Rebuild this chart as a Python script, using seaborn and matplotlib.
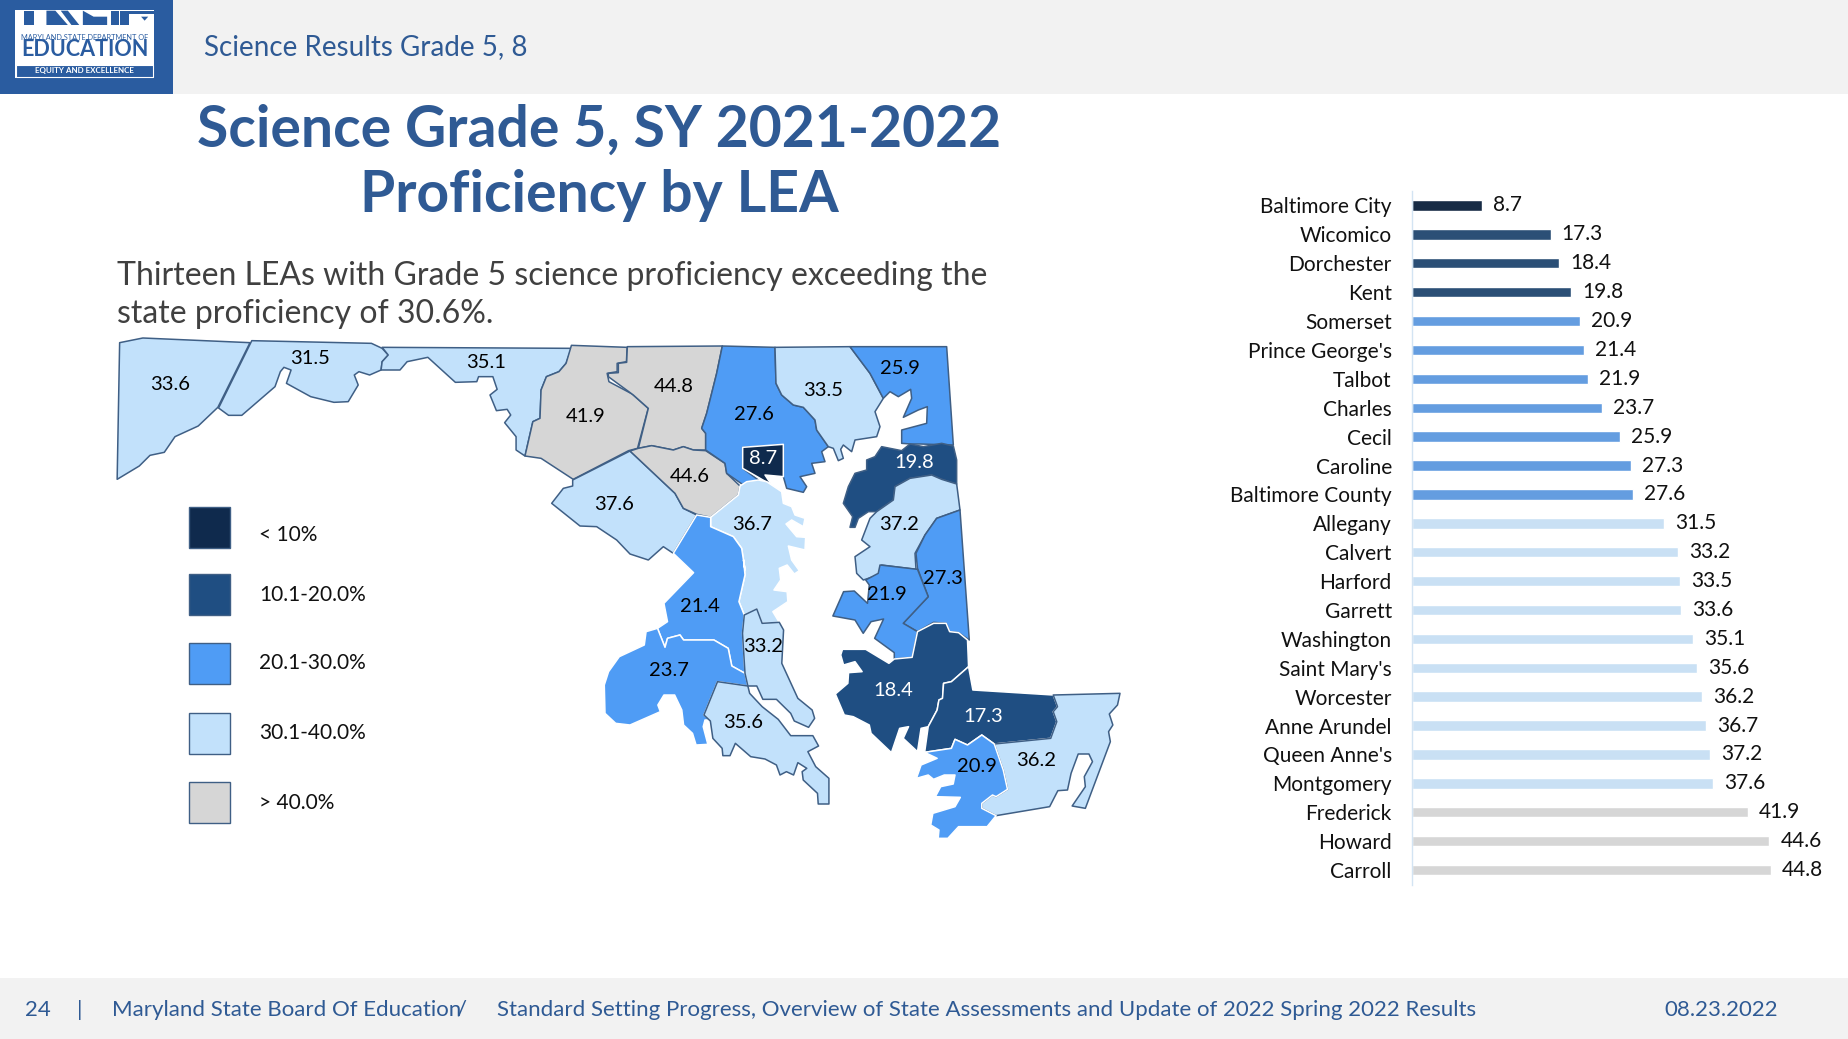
import matplotlib
matplotlib.use('Agg')
import matplotlib.pyplot as plt
from matplotlib.patches import Polygon, Rectangle
import pandas as pd
import seaborn as sns

leas = ['Baltimore City', 'Wicomico', 'Dorchester', 'Kent', 'Somerset', "Prince George's", 'Talbot',
        'Charles', 'Cecil', 'Caroline', 'Baltimore County', 'Allegany', 'Calvert', 'Harford', 'Garrett',
        'Washington', "Saint Mary's", 'Worcester', 'Anne Arundel', "Queen Anne's", 'Montgomery',
        'Frederick', 'Howard', 'Carroll']
scores = [8.7, 17.3, 18.4, 19.8, 20.9, 21.4, 21.9, 23.7, 25.9, 27.3, 27.6, 31.5, 33.2, 33.5, 33.6,
          35.1, 35.6, 36.2, 36.7, 37.2, 37.6, 41.9, 44.6, 44.8]
band_labels = ['< 10%', '10.1-20.0%', '20.1-30.0%', '30.1-40.0%', '> 40.0%']
band_edges = [0, 10, 20, 30, 40, 100]
band_colors = ['#0f2a4d', '#1f4e82', '#4f9cf5', '#c2e1fb', '#d6d6d6']

BLUE = '#2f5a94'
OUTLINE = '#3f5f85'


def z1(pts):
    return [(100 + x / 2.8, 320 + y / 3) for x, y in pts]


def z2(pts):
    return [(520 + x / 3, 330 + y / 3) for x, y in pts]


def z3(pts):
    return [(580 + x / 2.8, 560 + y / 3) for x, y in pts]


def z4(pts):
    return [(x / 2.8, y / 3) for x, y in pts]


outlines = {
    'Garrett': z1([(55, 68), (120, 54), (420, 68), (330, 262), (275, 318), (210, 350), (180, 397), (140, 406),
                   (110, 438), (48, 478)]),
    'Allegany': z1([(425, 62), (760, 70), (790, 85), (807, 105), (790, 125), (787, 150), (755, 165), (725, 155),
                    (712, 165), (723, 195), (695, 245), (655, 247), (590, 230), (522, 190), (535, 150), (515, 142),
                    (505, 155), (490, 200), (397, 286), (360, 286), (332, 264)]),
    'Washington': z1([(790, 82), (1320, 85), (1305, 130), (1285, 155), (1250, 170), (1235, 210), (1232, 295),
                      (1212, 305), (1190, 408), (1165, 390), (1165, 350), (1133, 308), (1150, 285), (1140, 268),
                      (1110, 272), (1092, 225), (1112, 208), (1100, 170), (1060, 170), (1055, 185), (995, 187),
                      (918, 112), (860, 125), (840, 150), (787, 150), (790, 125), (807, 105)]),
    'Frederick': z1([(1320, 76), (1476, 82), (1474, 125), (1448, 130), (1448, 155), (1420, 160), (1425, 185),
                     (1490, 222), (1535, 265), (1505, 385), (1480, 392), (1325, 478), (1235, 415), (1190, 408),
                     (1212, 305), (1232, 295), (1235, 210), (1250, 170), (1285, 155), (1305, 130)]),
    'Carroll': z2([(322, 50), (607, 48), (590, 130), (560, 250), (545, 295), (557, 310), (557, 360), (520, 360),
                   (490, 350), (460, 360), (395, 347), (355, 355), (385, 235), (340, 195), (265, 140), (265, 130),
                   (295, 128), (295, 100), (320, 97)]),
    'Montgomery': z2([(330, 363), (465, 490), (490, 535), (530, 555), (460, 670), (430, 650), (385, 690), (330, 672),
                      (290, 630), (230, 590), (180, 588), (95, 520), (130, 475), (158, 468), (158, 450)]),
    'Howard': z2([(355, 355), (395, 347), (460, 360), (490, 350), (520, 360), (557, 362), (615, 400), (620, 430),
                  (660, 468), (655, 495), (572, 562), (530, 553), (490, 535), (465, 490), (330, 363)]),
    'Baltimore County': z2([(607, 48), (765, 52), (768, 160), (785, 195), (820, 225), (850, 232), (885, 270),
                            (890, 300), (925, 350), (905, 365), (915, 395), (875, 400), (885, 430), (840, 440),
                            (860, 470), (850, 487), (800, 475), (790, 440), (790, 345), (668, 352), (668, 415),
                            (715, 450), (670, 465), (620, 430), (615, 400), (557, 360), (557, 310), (545, 295),
                            (560, 250), (590, 130)]),
    'Baltimore City': z2([(668, 352), (790, 343), (790, 440), (735, 435), (755, 465), (668, 415)]),
    'Harford': z2([(765, 52), (990, 50), (1050, 130), (1090, 205), (1065, 245), (1080, 290), (1070, 320), (1005, 330),
                   (995, 365), (970, 345), (962, 358), (970, 385), (955, 392), (940, 355), (925, 350), (890, 300),
                   (885, 270), (850, 232), (820, 225), (785, 195), (768, 160)]),
    'Cecil': z2([(990, 50), (1280, 50), (1300, 345), (1200, 342), (1172, 342), (1145, 340), (1145, 300), (1220, 280),
                 (1222, 230), (1195, 240), (1150, 262), (1175, 205), (1172, 178), (1135, 200), (1110, 185), (1090, 205),
                 (1050, 130)]),
    'Kent': z2([(1085, 350), (1145, 362), (1170, 342), (1210, 350), (1265, 340), (1300, 348), (1310, 390), (1310, 462),
                (1265, 448), (1235, 435), (1170, 445), (1125, 470), (1120, 510), (1070, 545), (1045, 545), (1015, 565),
                (1005, 592), (990, 592), (998, 560), (970, 520), (985, 470), (1005, 430), (1040, 420), (1040, 390),
                (1065, 380)]),
    "Queen Anne's": z2([(1125, 470), (1170, 445), (1235, 435), (1265, 448), (1310, 462), (1320, 540), (1250, 565),
                        (1215, 615), (1185, 670), (1188, 718), (1085, 705), (1075, 735), (1030, 750), (1010, 730),
                        (1005, 680), (1050, 650), (1025, 630), (1050, 565), (1070, 545), (1120, 510)]),
    'Caroline': z2([(1320, 540)]) + z3([(1090, 240), (1060, 218), (1035, 215), (1025, 190), (990, 187), (945, 215),
                                        (905, 190), (975, 110), (945, 25)]) + z2([(1188, 670), (1215, 615), (1250, 565)]),
    'Talbot': z3([(840, 15), (945, 28), (975, 110), (905, 190), (945, 215), (930, 292), (880, 297), (880, 278),
                  (825, 235), (850, 177), (815, 185), (793, 220), (770, 180), (708, 168), (738, 95), (768, 93),
                  (805, 130), (810, 75), (800, 60), (835, 40)]),
    'Dorchester': z3([(945, 215), (990, 190), (1025, 190), (1035, 215), (1060, 218), (1085, 240), (1088, 320),
                      (1040, 365), (1018, 370), (1015, 415), (1005, 420), (1000, 450), (975, 500), (955, 505),
                      (945, 575), (905, 535), (920, 500), (895, 505), (872, 578), (815, 520), (810, 495), (765, 470),
                      (740, 465), (715, 402), (750, 370), (752, 338), (790, 335), (770, 305), (738, 315), (730, 285),
                      (735, 268), (800, 268), (865, 310), (880, 297), (930, 292)]),
    'Wicomico': z3([(1088, 320), (1100, 390), (1325, 405), (1337, 440), (1325, 455), (1335, 485), (1318, 535),
                    (1160, 552), (1125, 525), (1085, 555), (1050, 538), (1040, 565), (965, 577), (975, 500),
                    (1000, 450), (1005, 420), (1015, 415), (1018, 370), (1040, 365)]),
    'Worcester': z3([(1325, 405), (1512, 400), (1505, 435), (1482, 462), (1492, 495), (1480, 515), (1485, 545),
                     (1415, 745), (1378, 738), (1415, 680), (1412, 650), (1435, 605), (1425, 582), (1395, 582),
                     (1375, 640), (1365, 690), (1338, 692), (1315, 740), (1165, 767), (1125, 745), (1125, 730),
                     (1155, 705), (1165, 710), (1197, 688), (1185, 630), (1160, 552), (1318, 535), (1335, 485),
                     (1325, 455), (1337, 440)]),
    'Somerset': z3([(1125, 525), (1160, 552), (1185, 630), (1197, 688), (1165, 710), (1155, 705), (1125, 730),
                    (1125, 745), (1165, 767), (1140, 800), (1085, 800), (1060, 800), (1030, 835), (1003, 835),
                    (1005, 810), (982, 795), (988, 760), (1050, 740), (1065, 712), (995, 710), (1010, 680), (1045, 672),
                    (1050, 645), (1020, 645), (990, 658), (975, 645), (942, 655), (955, 615), (1000, 595), (965, 577),
                    (1040, 565), (1050, 538), (1085, 555)]),
    'Anne Arundel': z2([(572, 562), (655, 495), (660, 468), (680, 455), (715, 450), (740, 455), (785, 485), (790, 520),
                        (815, 530), (825, 555), (855, 565), (850, 590), (815, 570), (798, 582), (830, 620), (857, 622),
                        (855, 660), (805, 648), (815, 690), (838, 722)])
    + z3([(600, 42), (580, 15), (558, 25), (562, 60), (543, 90), (580, 95), (582, 125), (540, 155), (558, 187),
          (510, 190), (495, 147), (460, 165), (445, 125), (462, 45), (458, 0)])
    + z2([(675, 720), (665, 655), (640, 620), (572, 590)]),
    "Prince George's": z2([(530, 555), (572, 562), (572, 590), (640, 620), (665, 655), (675, 720)])
    + z3([(458, 0), (462, 45), (445, 125), (460, 165), (455, 220), (462, 340), (425, 318), (415, 265), (375, 240),
          (290, 240), (280, 225), (245, 235), (238, 262), (217, 205), (245, 185), (235, 130), (318, 38)])
    + z2([(460, 670)]),
    'Charles': z3([(217, 205), (238, 262), (245, 235), (280, 225), (290, 240), (375, 240), (415, 265), (425, 318),
                   (462, 340), (470, 378), (385, 365), (347, 465), (365, 480), (350, 480), (345, 500), (358, 553),
                   (325, 555), (315, 520), (290, 495), (285, 450), (265, 405), (235, 405), (218, 435), (225, 455),
                   (140, 495), (100, 490), (70, 460), (68, 375), (80, 335), (110, 290), (180, 255), (185, 215)]),
    "Saint Mary's": z3([(385, 365), (470, 378), (475, 400), (510, 440), (555, 478), (590, 527), (652, 527), (668, 558),
                        (638, 575), (660, 620), (697, 655), (697, 732), (667, 732), (665, 700), (625, 660), (622, 635),
                        (635, 625), (610, 608), (598, 645), (578, 635), (560, 645), (550, 615), (518, 597), (478, 590),
                        (435, 550), (420, 587), (400, 587), (398, 565), (372, 535), (365, 483), (347, 465)]),
    'Calvert': z3([(460, 165), (495, 147), (510, 190), (558, 187), (570, 210), (565, 310), (610, 415), (650, 450),
                   (657, 475), (640, 502), (600, 483), (590, 460), (550, 418), (512, 418), (495, 378), (470, 378),
                   (462, 340), (455, 220)]),
}
white_edged = ['Baltimore City', 'Anne Arundel', 'Charles', "Prince George's", 'Dorchester', 'Wicomico', 'Somerset']
# label anchors on the map, in slide pixels
map_labels = {
    'Garrett': (170, 384), 'Allegany': (310, 359), 'Washington': (486, 362), 'Frederick': (586, 417),
    'Carroll': (674, 386), 'Baltimore County': (754, 415), 'Harford': (823, 390), 'Cecil': (900, 368),
    'Baltimore City': (763, 458), 'Kent': (914, 462), 'Howard': (690, 476), 'Montgomery': (614, 504),
    'Anne Arundel': (752, 524), "Queen Anne's": (899, 524), 'Caroline': (943, 579), 'Talbot': (887, 594),
    "Prince George's": (700, 606), 'Calvert': (763, 647), 'Charles': (669, 671), "Saint Mary's": (743, 723),
    'Dorchester': (893, 691), 'Wicomico': (983, 716), 'Worcester': (1036, 761), 'Somerset': (977, 767),
}
legend_tops = [507, 574, 643, 713, 782]
legend_text_y = [535, 595, 663, 733, 803]

df = pd.DataFrame({'lea': leas, 'score': scores})
df['band'] = pd.cut(df['score'], bins=band_edges, labels=band_labels).astype(str)
band_of = dict(zip(df['lea'], df['band']))
color_of = dict(zip(band_labels, band_colors))

sns.set_theme(style='white')
plt.rcParams['font.family'] = ['Lato', 'DejaVu Sans']

fig = plt.figure(figsize=(18.48, 10.39), dpi=100, facecolor='white')
page = fig.add_axes([0, 0, 1, 1])
page.set_xlim(0, 1848)
page.set_ylim(1039, 0)
page.axis('off')

# header, logo, footer
page.add_patch(Rectangle((0, 0), 1848, 94, color='#f2f2f2', lw=0))
page.add_patch(Rectangle((0, 978), 1848, 61, color='#f2f2f2', lw=0))
page.add_patch(Rectangle((0, 0), 173, 94, color='#2a5ca0', lw=0))
page.add_patch(Rectangle((15, 10), 139, 67.5, color='white', lw=0))
page.add_patch(Rectangle((16, 65), 137, 12, facecolor='#2a5ca0', edgecolor='white', lw=0.8))
for shape in [[(68, 32), (95, 32), (95, 75), (68, 75)], [(130, 32), (155, 32), (190, 75), (130, 75)],
              [(170, 32), (190, 32), (222, 75), (200, 75)], [(232, 32), (262, 50), (300, 50), (300, 75), (232, 75)],
              [(310, 32), (332, 32), (332, 75), (310, 75)], [(335, 32), (430, 32), (430, 42), (360, 42), (360, 75), (335, 75)],
              [(395, 50), (415, 50), (405, 62)]]:
    page.add_patch(Polygon(z4(shape), color='#2a5ca0', lw=0))
page.text(84.5, 37, 'MARYLAND STATE DEPARTMENT OF', fontsize=5.3, color='#2a5ca0', ha='center', va='center')
page.text(84.5, 50, 'EDUCATION', fontsize=15.5, fontweight='bold', color='#2a5ca0', ha='center', va='center')
page.text(84.5, 71, 'EQUITY AND EXCELLENCE', fontsize=5.8, fontweight='bold', color='white', ha='center', va='center')
page.text(204, 47.5, 'Science Results Grade 5, 8', fontsize=20, color=BLUE, va='center')

for x, s in [(25, '24'), (77, '|'), (112, 'Maryland State Board Of Education'), (456, '/'),
             (497, 'Standard Setting Progress, Overview of State Assessments and Update of 2022 Spring 2022 Results'),
             (1664, '08.23.2022')]:
    page.text(x, 1010, s, fontsize=16, color=BLUE, va='center')

page.text(599, 130, 'Science Grade 5, SY 2021-2022', fontsize=41, fontweight='bold', color=BLUE, ha='center', va='center')
page.text(599, 195, 'Proficiency by LEA', fontsize=41, fontweight='bold', color=BLUE, ha='center', va='center')
page.text(117, 276, 'Thirteen LEAs with Grade 5 science proficiency exceeding the', fontsize=23, color='#404040', va='center')
page.text(117, 314, 'state proficiency of 30.6%.', fontsize=23, color='#404040', va='center')

# map
for lea, pts in outlines.items():
    edge = 'white' if lea in white_edged else OUTLINE
    page.add_patch(Polygon(pts, closed=True, facecolor=color_of[band_of[lea]], edgecolor=edge, lw=1.1, joinstyle='round'))
for lea, (x, y) in map_labels.items():
    txt_color = 'white' if band_of[lea] in band_labels[:2] else 'black'
    page.text(x, y, f'{scores[leas.index(lea)]:.1f}', fontsize=14.5, color=txt_color, ha='center', va='center')

for lab, col, top, ty in zip(band_labels, band_colors, legend_tops, legend_text_y):
    page.add_patch(Rectangle((188.5, top), 41, 41, facecolor=col, edgecolor=OUTLINE, lw=1))
    page.text(259, ty, lab, fontsize=15, color='#111111', va='center')

# ranked bars
bar_ax = fig.add_axes([1412 / 1848, 1 - 884.5 / 1039, 436 / 1848, (884.5 - 191) / 1039])
sns.barplot(data=df, y='lea', x='score', hue='band', hue_order=band_labels, palette=band_colors,
            dodge=False, width=0.36, legend=False, ax=bar_ax)
for cont in bar_ax.containers:
    bar_ax.bar_label(cont, fmt='%.1f', padding=8, fontsize=15, color='#111111')
bar_ax.set_xlim(0, 54.4)
bar_ax.set_ylim(23.5, -0.5)
bar_ax.set_xlabel('')
bar_ax.set_ylabel('')
bar_ax.set_xticks([])
bar_ax.patch.set_alpha(0)
bar_ax.tick_params(axis='y', length=0, pad=14.5, labelsize=15, labelcolor='#111111')
sns.despine(ax=bar_ax, bottom=True)
bar_ax.spines['left'].set_color('#d3e4f3')
bar_ax.spines['left'].set_linewidth(1)

fig.savefig('out.png', dpi=100)
